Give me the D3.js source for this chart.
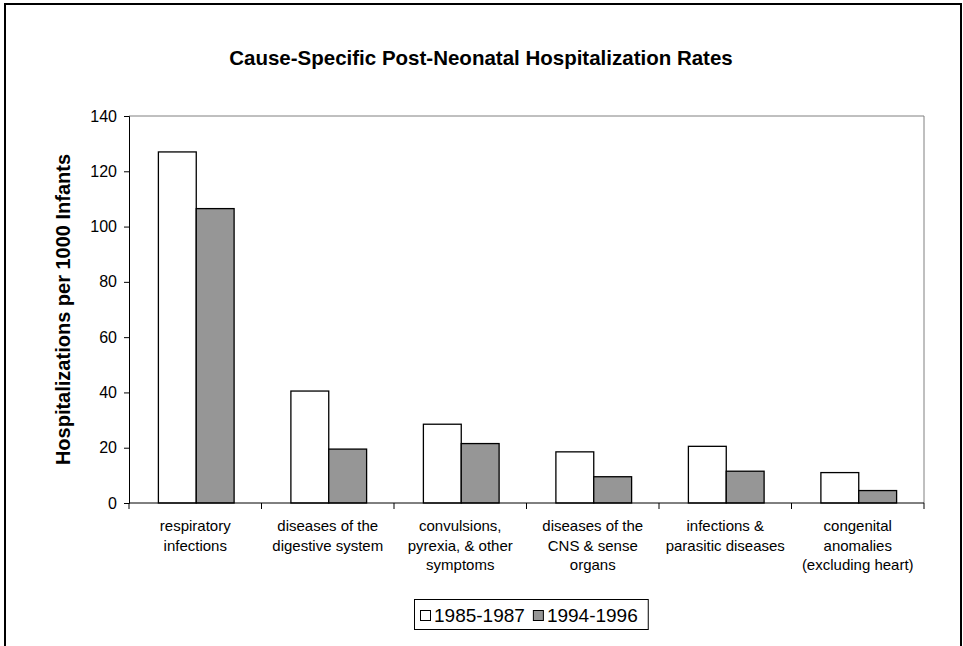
<!DOCTYPE html>
<html>
<head>
<meta charset="utf-8">
<script src="https://cdn.jsdelivr.net/npm/d3@7"></script>
<style>
  html, body { margin: 0; padding: 0; background: #fff; }
  svg { display: block; }
  text { font-family: "Liberation Sans", Arial, sans-serif; fill: #000; }
</style>
</head>
<body>
<svg id="chart" width="963" height="646"></svg>
<script>
const categories = [
  ["respiratory", "infections"],
  ["diseases of the", "digestive system"],
  ["convulsions,", "pyrexia, & other", "symptoms"],
  ["diseases of the", "CNS & sense", "organs"],
  ["infections &", "parasitic diseases"],
  ["congenital", "anomalies", "(excluding heart)"]
];
const seriesNames = ["1985-1987", "1994-1996"];
const values1985 = [127, 40.5, 28.5, 18.5, 20.5, 11];
const values1994 = [106.5, 19.5, 21.5, 9.5, 11.5, 4.5];
const yTicks = [0, 20, 40, 60, 80, 100, 120, 140];
const seriesColors = ["#ffffff", "#969696"];

const svg = d3.select("#chart");

// outer frame
svg.append("rect").attr("x", 5).attr("y", 4).attr("width", 956).attr("height", 660)
  .attr("fill", "#fff").attr("stroke", "#000").attr("stroke-width", 2);

const m = { left: 129, top: 116, right: 924, bottom: 503 };

const x = d3.scaleBand().domain(d3.range(categories.length)).range([m.left, m.right]).padding(0);
const y = d3.scaleLinear().domain([0, 140]).range([m.bottom, m.top]);

// plot area border (top & right gray)
svg.append("path")
  .attr("d", `M${m.left},${m.top}H${m.right}V${m.bottom}`)
  .attr("fill", "none").attr("stroke", "#808080").attr("stroke-width", 1);

// bars
const bw = x.bandwidth() / 3.5;
const data = categories.map((c, i) => ({ i, v: [values1985[i], values1994[i]] }));
const g = svg.append("g");
data.forEach(d => {
  const cx = x(d.i) + x.bandwidth() / 2 + 1;
  d.v.forEach((v, s) => {
    g.append("rect")
      .attr("x", cx - bw + s * bw)
      .attr("y", y(v))
      .attr("width", bw)
      .attr("height", y(0) - y(v))
      .attr("fill", seriesColors[s])
      .attr("stroke", "#000")
      .attr("stroke-width", 1.3);
  });
});

// y axis
const yAxis = d3.axisLeft(y).tickValues(yTicks).tickSize(5).tickPadding(7);
const ya = svg.append("g").attr("transform", `translate(${m.left},0)`).call(yAxis);
ya.select(".domain").attr("stroke", "#000");
ya.selectAll(".tick line").attr("stroke", "#000");
ya.selectAll(".tick text").style("font-size", "16px").style("font-family", "'Liberation Sans', Arial, sans-serif").attr("fill", "#000");

// x axis
const xa = svg.append("g").attr("transform", `translate(0,${m.bottom})`);
xa.append("line").attr("x1", m.left).attr("x2", m.right).attr("y1", 0).attr("y2", 0).attr("stroke", "#000");
const tickPos = d3.range(categories.length + 1).map(i => m.left + i * x.bandwidth());
xa.selectAll(".xt").data(tickPos).join("line")
  .attr("x1", d => d).attr("x2", d => d).attr("y1", 0).attr("y2", 6).attr("stroke", "#000");

// x labels
categories.forEach((lines, i) => {
  const cx = x(i) + x.bandwidth() / 2;
  const t = svg.append("text")
    .attr("x", cx)
    .attr("y", 531)
    .attr("text-anchor", "middle")
    .style("font-size", "15px");
  lines.forEach((ln, k) => {
    t.append("tspan").attr("x", cx).attr("dy", k === 0 ? 0 : 19.5).text(ln);
  });
});

// title
svg.append("text").attr("x", 481).attr("y", 65).attr("text-anchor", "middle")
  .style("font-size", "20.5px").style("font-weight", "bold")
  .text("Cause-Specific Post-Neonatal Hospitalization Rates");

// y title
svg.append("text")
  .attr("transform", `translate(70,${(m.top + m.bottom) / 2}) rotate(-90)`)
  .attr("text-anchor", "middle")
  .style("font-size", "20px").style("font-weight", "bold")
  .text("Hospitalizations per 1000 Infants");

// legend
const lg = svg.append("g");
let lx = 420;
seriesNames.forEach((name, s) => {
  lg.append("rect").attr("x", lx + 0.5).attr("y", 610.5).attr("width", 10).attr("height", 10)
    .attr("fill", seriesColors[s]).attr("stroke", "#000");
  const t = lg.append("text").attr("x", lx + 14).attr("y", 622).style("font-size", "19px").text(name);
  lx += 14 + t.node().getComputedTextLength() + 8;
});
lg.insert("rect", ":first-child").attr("x", 414.5).attr("y", 599.5).attr("width", lx - 414 + 2).attr("height", 30)
  .attr("fill", "#fff").attr("stroke", "#000").attr("stroke-width", 1);
</script>
</body>
</html>
